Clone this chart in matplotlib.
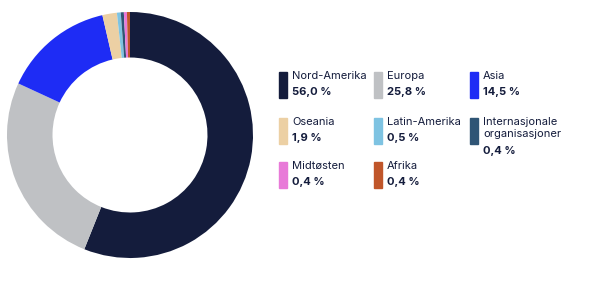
import matplotlib.pyplot as plt
from matplotlib.patches import Rectangle

regions = ['Nord-Amerika', 'Europa', 'Asia', 'Oseania', 'Latin-Amerika',
           'Internasjonale\norganisasjoner', 'Midtøsten', 'Afrika']
shares = [56.0, 25.8, 14.5, 1.9, 0.5, 0.4, 0.4, 0.4]
colors = ['#141c3c', '#bfc1c4', '#1e2cf5', '#ecd0a4', '#7ec3e2',
          '#2f5575', '#e87ad8', '#c0562a']

W, H = 606, 281
fig = plt.figure(figsize=(W / 100, H / 100), dpi=100)
plt.rcParams['font.family'] = ['Inter', 'DejaVu Sans']

ax = fig.add_axes([7 / W, (H - 258) / H, 246 / W, 246 / H])
ax.pie(shares, colors=colors, startangle=90, counterclock=False,
       wedgeprops=dict(width=0.37, edgecolor='none'))
ax.set_xlim(-1, 1)
ax.set_ylim(-1, 1)
ax.set_aspect('equal')
ax.axis('off')

# legend drawn by hand, 3 columns
col_x = [279, 374, 470]
row_y = [72, 118, 162]
for i, (name, val, c) in enumerate(zip(regions, shares, colors)):
    x = col_x[i % 3]
    y = row_y[i // 3]
    fig.patches.append(Rectangle((x / W, 1 - (y + 26) / H), 8 / W, 26 / H,
                                 color=c, transform=fig.transFigure))
    fig.text((x + 13) / W, 1 - (y - 1) / H, name, fontsize=8, va='top',
             color='#141c3c', linespacing=1.25)
    nlines = name.count('\n')
    fig.text((x + 13) / W, 1 - (y + 15 + nlines * 13) / H,
             f'{val:.1f} %'.replace('.', ','), fontsize=8, va='top',
             fontweight='bold', color='#141c3c')

fig.savefig('out.png', dpi=100)
